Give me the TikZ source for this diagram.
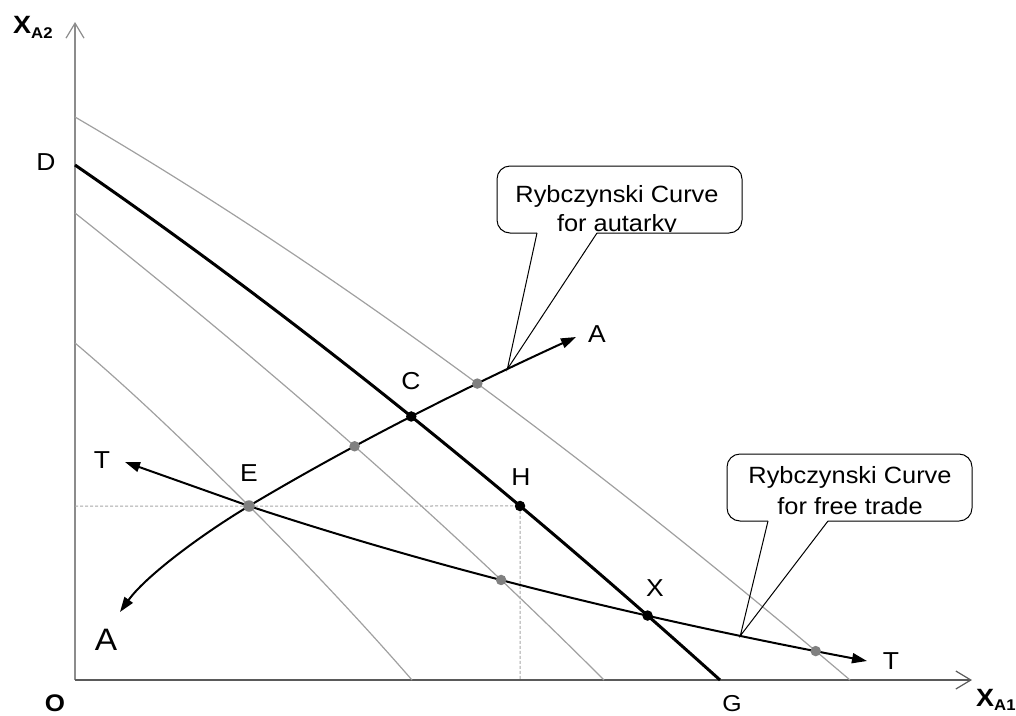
\documentclass[tikz,border=0pt]{standalone}
\usepackage{fontspec}
\setmainfont{Liberation Sans}[FakeStretch=1.08]
\usetikzlibrary{arrows.meta,intersections}

\definecolor{ppfgrey}{HTML}{A0A0A0}
\definecolor{dotgrey}{HTML}{808080}
\definecolor{axisgrey}{HTML}{8C8C8C}
\definecolor{axisdark}{HTML}{5A5A5A}
\definecolor{guidegrey}{HTML}{A8A8A8}

\begin{document}
\begin{tikzpicture}[x=1pt,y=-1pt,
  ppfline/.style={ppfgrey, line width=1.2pt},
  ppfbold/.style={black, line width=3pt},
  rcurve/.style={black, line width=2pt,
    {Triangle[length=15pt,width=10pt]}-{Triangle[length=15pt,width=10pt]}},
  axisline/.style={line width=1.2pt, -{Straight Barb[length=15pt,width=18pt]}},
  guideline/.style={guidegrey, line width=1pt, dash pattern=on 3pt off 2pt},
  blackdot/.style={circle, fill=black, inner sep=0pt, minimum size=10.5pt},
  greydot/.style={circle, fill=dotgrey, inner sep=0pt, minimum size=10.5pt},
  lab/.style={inner sep=0pt, font=\fontsize{24.5}{28}\selectfont},
  biglab/.style={inner sep=0pt, font=\fontsize{31}{36}\selectfont},
  calloutline/.style={black, line width=1pt},
  callouttext/.style={anchor=base, inner sep=0pt, font=\fontsize{23.5}{28}\selectfont}
]
\useasboundingbox (0,0) rectangle (1016,715);

% axes and key points
\coordinate (O) at (75,680);
\coordinate (ytop) at (75,22);
\coordinate (xend) at (972,680);
\coordinate (E) at (249,506);
\coordinate (Dpt) at (75,165);
\coordinate (Gpt) at (720,680);

\draw[axisline, axisgrey] (O) -- (ytop);
\draw[axisline, axisdark] (O) -- (xend);

% production possibility frontiers
\draw[ppfline, name path=ppf1] (75,117) .. controls (333,267.5) and (592,460.7) .. (850,680);
\draw[ppfline, name path=ppf3] (75,213) .. controls (251,353) and (428,504) .. (604,680);
\draw[ppfline, name path=ppf4] (75,343) .. controls (133,392) and (191,448) .. (E)
  .. controls (303,560) and (358,618) .. (412,680);
\draw[ppfbold, name path=ppfD] (Dpt) .. controls (290,313) and (505,486.5) .. (Gpt);

% Rybczynski curves
\draw[rcurve, name path=aut] (120,612) .. controls (145,577) and (199,536) .. (E)
  .. controls (358,441) and (467,387) .. (576,337) coordinate[pos=0.79] (tipA);
\draw[rcurve, name path=ftr] (125,462) -- (E)
  .. controls (455,574) and (661,622) .. (867,661) coordinate[pos=0.795] (tipT);

% intersections
\path[name path=hline] (O |- E) -- (xend |- E);
\path[name intersections={of=ppfD and aut, by=iC}];
\path[name intersections={of=ppfD and ftr, by=iX}];
\path[name intersections={of=ppfD and hline, by=iH}];
\path[name intersections={of=ppf3 and aut, by=iA3}];
\path[name intersections={of=ppf1 and aut, by=iA1}];
\path[name intersections={of=ppf3 and ftr, by=iT3}];
\path[name intersections={of=ppf1 and ftr, by=iT1}];

% guides through E and H
\draw[guideline] (O |- E) -- (iH) -- (iH |- O);

% callout for autarky
\fill[white, rounded corners=13pt] (497,166) rectangle (742,233);
\draw[calloutline, rounded corners=13pt] (537,233) -- (497,233) -- (497,166)
  -- (742,166) -- (742,233) -- (597,233);
\draw[calloutline] (537,233) -- (tipA) -- (597,233);
\begin{scope}
  \clip (497,166) rectangle (742,231);
  \node[callouttext] (coAa) at (617,202) {Rybczynski Curve};
  \node[callouttext] (coAb) at (617,231) {for autarky};
\end{scope}

% callout for free trade
\fill[white, rounded corners=13pt] (727,454) rectangle (972,521);
\draw[calloutline, rounded corners=13pt] (768,521) -- (727,521) -- (727,454)
  -- (972,454) -- (972,521) -- (828,521);
\draw[calloutline] (768,521) -- (tipT) -- (828,521);
\begin{scope}
  \clip (727,454) rectangle (972,515);
  \node[callouttext] (coTa) at (850,483) {Rybczynski Curve};
  \node[callouttext] (coTb) at (850,514) {for free trade};
\end{scope}

% equilibrium dots
\node[greydot, minimum size=11.5pt] (Edot) at (E) {};
\node[greydot] (A3dot) at (iA3) {};
\node[greydot] (A1dot) at (iA1) {};
\node[greydot] (T3dot) at (iT3) {};
\node[greydot] (T1dot) at (iT1) {};
\node[blackdot] (Cdot) at (iC) {};
\node[blackdot] (Hdot) at (iH) {};
\node[blackdot] (Xdot) at (iX) {};

% labels
\node[inner sep=0pt, anchor=base west] (yname) at (13,33)
  {\fontsize{25}{28}\selectfont\bfseries X\raisebox{-5pt}{\fontsize{15.5}{18}\selectfont A2}};
\node[inner sep=0pt, anchor=base west] (xname) at (976,706)
  {\fontsize{25}{28}\selectfont\bfseries X\raisebox{-4pt}{\fontsize{15.5}{18}\selectfont A1}};
\node[lab, font=\fontsize{24}{28}\selectfont\bfseries] (labO) at (55,703) {O};
\node[lab] (labD) at (46,162) {D};
\node[lab, font=\fontsize{23}{28}\selectfont] (labG) at (732,704) {G};
\node[lab] (labC) at (411,381) {C};
\node[lab] (labE) at (249,473) {E};
\node[lab] (labH) at (521,477) {H};
\node[lab] (labX) at (655,588) {X};
\node[lab] (labTl) at (102,460) {T};
\node[lab] (labTr) at (891,661) {T};
\node[lab] (labAt) at (597,334) {A};
\node[biglab] (labAb) at (106,640) {A};
\end{tikzpicture}
\end{document}
